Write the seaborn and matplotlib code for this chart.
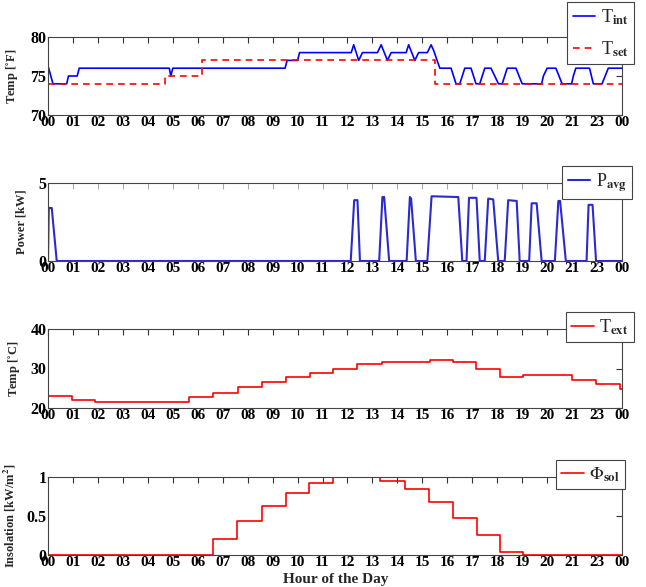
import numpy as np
import pandas as pd
import matplotlib
matplotlib.use("Agg")
import matplotlib.pyplot as plt
import seaborn as sns

sns.set_style("white")
plt.rcParams['font.family'] = ['Liberation Serif', 'DejaVu Serif']
plt.rcParams['mathtext.fontset'] = 'stix'

# --------------------------- data (x in tick-index units, 0..23) ---------------------------
tick_labels = ["00", "01", "02", "03", "04", "05", "06", "07", "08", "09", "10", "11",
               "12", "13", "14", "15", "16", "17", "18", "19", "20", "21", "23", "00"]

# indoor temperature (trapezoid-shaped cycling)
tint_hour = [0, 0.2, 0.75, 0.82, 1.17, 1.25, 4.86, 4.92, 5.0, 9.5, 9.58, 10.0, 10.08,
             12.15, 12.25, 12.45, 12.6, 13.2, 13.35, 13.6, 13.75, 14.35, 14.45, 14.7, 14.85,
             15.2, 15.35, 15.45, 15.7, 16.15, 16.35, 16.5, 16.7, 16.95, 17.15, 17.3, 17.5,
             17.75, 18.05, 18.2, 18.4, 18.75, 19.0, 19.78, 19.85, 20.0, 20.35, 20.6, 20.98,
             21.05, 21.15, 21.7, 21.85, 22.2, 22.45, 23.0]
tint_val = [76.3, 74, 74, 75, 75, 76, 76, 75, 76, 76, 77, 77, 78,
            78, 79, 77, 78, 78, 79, 77, 78, 78, 79, 77, 78,
            78, 79, 78.3, 76, 76, 74, 74, 76, 76, 74, 74, 76,
            76, 74, 74, 76, 76, 74, 74, 75, 76, 76, 74, 74,
            75, 76, 76, 74, 74, 76, 76]

# setpoint (step)
tset_hour = [0, 4.7, 6.18, 15.5, 23.0]
tset_val = [74, 75, 77, 74, 74]

# average power
p_hour = [0, 0.03, 0.15, 0.35, 12.13, 12.27, 12.4, 12.5, 13.27, 13.4, 13.47, 13.67,
          14.37, 14.5, 14.55, 14.74, 15.2, 15.37, 16.44, 16.6, 16.77, 16.87, 17.17, 17.3,
          17.5, 17.64, 17.84, 18.04, 18.3, 18.44, 18.78, 18.9, 19.28, 19.38, 19.58, 19.78,
          20.31, 20.45, 20.52, 20.75, 21.58, 21.66, 21.82, 21.96, 23.0]
p_val = [0, 3.4, 3.4, 0, 0, 3.9, 3.9, 0, 0, 4.1, 4.1, 0,
         0, 4.1, 4.0, 0, 0, 4.15, 4.1, 0, 0, 4.05, 4.05, 0,
         0, 4.0, 3.95, 0, 0, 3.9, 3.85, 0, 0, 3.7, 3.7, 0,
         0, 3.85, 3.85, 0, 0, 3.6, 3.6, 0, 0]

# exterior temperature (step)
text_hour = [0, 0.95, 1.88, 5.66, 6.62, 7.62, 8.56, 9.54, 10.5, 11.43, 12.39, 13.37,
             15.3, 16.21, 17.15, 18.11, 19.04, 20.98, 21.96, 22.9, 23.0]
text_val = [23.1, 22.0, 21.5, 22.7, 23.9, 25.4, 26.7, 27.8, 28.8, 29.9, 31.1, 31.7,
            32.2, 31.7, 29.9, 27.8, 28.3, 27.1, 26.0, 24.7, 24.7]

# solar insolation (step)
sol_hour = [0, 6.62, 7.59, 8.56, 9.52, 10.47, 11.43, 13.3, 14.3, 15.26, 16.21, 17.17,
            18.11, 19.02, 23.0]
sol_val = [0, 0.2, 0.43, 0.63, 0.80, 0.92, 1.0, 0.95, 0.84, 0.68, 0.48, 0.26,
           0.04, 0, 0]

assert len(tint_hour) == len(tint_val)
assert len(p_hour) == len(p_val)

# --------------------------- figure ---------------------------
W, H = 646, 587
fig = plt.figure(figsize=(W / 100, H / 100), dpi=100)

def px_axes(top, bottom, left=48, right=622):
    return fig.add_axes([left / W, 1 - bottom / H, (right - left) / W, (bottom - top) / H])

ax1 = px_axes(37, 115)
ax2 = px_axes(183, 261)
ax3 = px_axes(329, 408)
ax4 = px_axes(477, 555)

blue = '#0000ff'
red = '#ff0000'

sns.lineplot(x=tint_hour, y=tint_val, ax=ax1, color=blue, linewidth=1.2,
             estimator=None, sort=False, label=r'T$_{\mathbf{int}}$')
sns.lineplot(x=tset_hour, y=tset_val, ax=ax1, color=red, linewidth=1.2,
             estimator=None, sort=False, drawstyle='steps-post',
             label=r'T$_{\mathbf{set}}$')
ax1.lines[1].set_dashes((4, 3))

sns.lineplot(x=p_hour, y=p_val, ax=ax2, color='#2a2ad0', linewidth=1.5,
             estimator=None, sort=False, label=r'P$_{\mathbf{avg}}$')

sns.lineplot(x=text_hour, y=text_val, ax=ax3, color=red, linewidth=1.2,
             estimator=None, sort=False, drawstyle='steps-post',
             label=r'T$_{\mathbf{ext}}$')

sns.lineplot(x=sol_hour, y=sol_val, ax=ax4, color=red, linewidth=1.2,
             estimator=None, sort=False, drawstyle='steps-post',
             label=r'$\Phi_{\mathbf{sol}}$')

ylims = [(70, 80), (0, 5), (20, 40), (0, 1)]
yticks = [[70, 75, 80], [0, 5], [20, 30, 40], [0, 0.5, 1]]
yticklabels = [["70", "75", "80"], ["0", "5"], ["20", "30", "40"], ["0", "0.5", "1"]]
ylabels = [r'Temp [$^{\circ}$F]', 'Power [kW]', r'Temp [$^{\circ}$C]', r'Insolation [kW/m$^{\mathbf{2}}$]']
ylabel_x = [20, 28, 22, 18]
# legend boxes: (right, top) in pixels
leg_pos = [(634, 2), (632, 166), (634, 312), (625, 460)]
leg_space = [0.7, 0.3, 0.3, 0.3]

for ax, yl, yt, ytl, lab, lx, lp, ls in zip([ax1, ax2, ax3, ax4], ylims, yticks, yticklabels,
                                            ylabels, ylabel_x, leg_pos, leg_space):
    ax.set_xlim(0, 23)
    ax.set_ylim(*yl)
    ax.set_xticks(np.arange(24))
    ax.set_xticklabels(tick_labels, fontsize=11, fontweight='bold')
    ax.set_yticks(yt)
    ax.set_yticklabels(ytl, fontsize=11.5, fontweight='bold')
    ax.tick_params(direction='in', length=4, width=0.8, top=True, right=True,
                   pad=1, colors='#333333', labelcolor='black')
    ax.set_ylabel(lab, fontsize=9, fontweight='bold')
    ax.yaxis.set_label_coords((lx - 48) / 574, 0.5)
    ax.set_xlabel("")
    for spine in ax.spines.values():
        spine.set_edgecolor('#444444')
        spine.set_linewidth(0.8)
    leg = ax.legend(loc='upper right', bbox_to_anchor=(lp[0] / W, 1 - lp[1] / H),
                    bbox_transform=fig.transFigure, borderaxespad=0, fancybox=False,
                    framealpha=1, edgecolor='#444444', prop={'size': 13},
                    handlelength=1.25, handletextpad=0.3, borderpad=0.3, labelspacing=ls)
    leg.get_frame().set_linewidth(0.8)

ax2.tick_params(colors='#aaaaaa', labelcolor='black')

ax4.set_xlabel("Hour of the Day", fontsize=11, fontweight='bold')
ax4.xaxis.set_label_coords((336 - 48) / 574, -(580 - 555) / 78, transform=ax4.transAxes)
ax4.xaxis.label.set_va('center')

fig.savefig("out.png", dpi=100)
